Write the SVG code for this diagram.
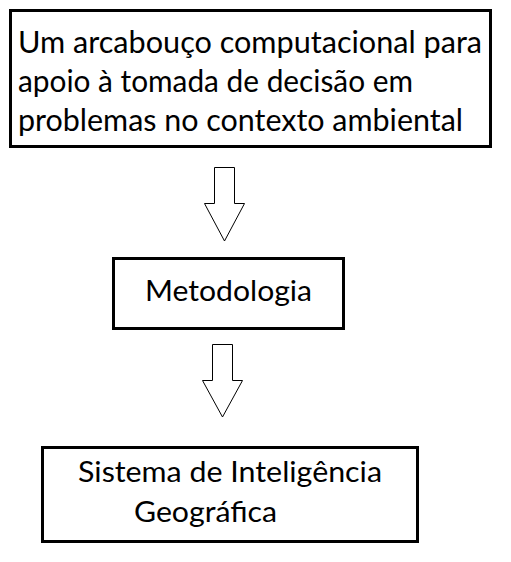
<svg xmlns="http://www.w3.org/2000/svg" width="511" height="562" viewBox="0 0 511 562">
<style>
.box{fill:#fff;stroke:#000;stroke-width:3}
.arrow{fill:#fff;stroke:#000;stroke-width:1}
text{font-family:Lato,"Open Sans",sans-serif;font-size:28px;fill:#000}
.big{font-size:31px}
</style>
<rect width="511" height="562" fill="#fff"/>
<g id="node-arcabouco">
<rect class="box" x="10.5" y="10.5" width="480" height="136"/>
<text class="big" x="18" y="53" textLength="464" lengthAdjust="spacingAndGlyphs">Um arcabouço computacional para</text>
<text class="big" x="18" y="92" textLength="395" lengthAdjust="spacingAndGlyphs">apoio à tomada de decisão em</text>
<text class="big" x="18" y="131" textLength="445" lengthAdjust="spacingAndGlyphs">problemas no contexto ambiental</text>
</g>
<g id="node-metodologia">
<rect class="box" x="113.5" y="258.5" width="230" height="70"/>
<text x="145" y="301" textLength="167" lengthAdjust="spacingAndGlyphs">Metodologia</text>
</g>
<g id="node-sig">
<rect class="box" x="42.5" y="447.5" width="375" height="94"/>
<text x="78" y="482" textLength="304" lengthAdjust="spacingAndGlyphs">Sistema de Inteligência</text>
<text x="134" y="522" textLength="143" lengthAdjust="spacingAndGlyphs">Geográfica</text>
</g>
<g id="connectors">
<polygon class="arrow" points="214.5,167.5 234.5,167.5 234.5,203.5 244.5,203.5 224.5,241 204.5,203.5 214.5,203.5"/>
<polygon class="arrow" points="212.5,344.5 232.5,344.5 232.5,380.5 242.5,380.5 222.5,417 202.5,380.5 212.5,380.5"/>
</g>
</svg>
